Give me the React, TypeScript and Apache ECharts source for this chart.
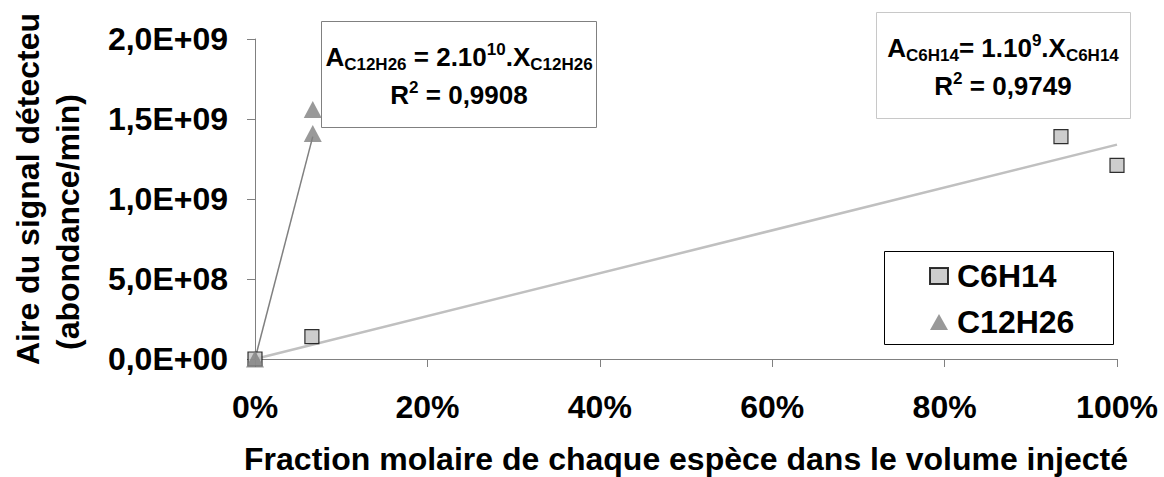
import React, { useEffect, useRef } from "react";
import * as echarts from "echarts";

const c6h14X = [0, 0.066, 0.935, 1.0];
const c6h14Y = [0, 1.4e8, 1.39e9, 1.21e9];
const c12h26X = [0, 0.067, 0.067];
const c12h26Y = [0, 1.56e9, 1.41e9];
const c6TrendX = [0, 1.0];
const c6TrendY = [0, 1.34e9];
const c12TrendX = [0, 0.067];
const c12TrendY = [0, 1.39e9];
const xTickLabels = ["0%", "20%", "40%", "60%", "80%", "100%"];
const yTickLabels = ["0,0E+00", "5,0E+08", "1,0E+09", "1,5E+09", "2,0E+09"];
const seriesNames = ["C6H14", "C12H26"];

const FONT = "'Liberation Sans', Arial, Helvetica, sans-serif";

const zip = (xs: number[], ys: number[]) => xs.map((x, i) => [x, ys[i]]);

function eqRich(color: string) {
  return {
    n: { fontSize: 26, fontWeight: "bold", color, fontFamily: FONT, lineHeight: 38, verticalAlign: "middle" },
    s: { fontSize: 17, fontWeight: "bold", color, fontFamily: FONT, lineHeight: 17, verticalAlign: "bottom", padding: [0, 0, 3, 0] },
    p: { fontSize: 17, fontWeight: "bold", color, fontFamily: FONT, lineHeight: 17, verticalAlign: "top", padding: [3, 0, 0, 0] },
  };
}

export default function App() {
  const ref = useRef<HTMLDivElement>(null);
  useEffect(() => {
    if (!ref.current) return;
    const chart = echarts.init(ref.current, undefined, { renderer: "svg" });
    chart.setOption({
      animation: false,
      textStyle: { fontFamily: FONT },
      grid: { left: 255, right: 47, top: 39, bottom: 118, outerBoundsMode: "none", containLabel: false },
      xAxis: {
        type: "value",
        min: 0,
        max: 1,
        interval: 0.2,
        splitLine: { show: false },
        axisLine: { lineStyle: { color: "#808080", width: 1 } },
        axisTick: { length: 8, lineStyle: { color: "#808080" } },
        axisLabel: {
          formatter: (_v: number, i: number) => xTickLabels[i],
          fontSize: 32,
          fontWeight: "bold",
          color: "#000",
          margin: 32,
          fontFamily: FONT,
        },
        name: "Fraction molaire de chaque espèce dans le volume injecté",
        nameLocation: "middle",
        nameGap: 84,
        nameTextStyle: { fontSize: 32, fontWeight: "bold", color: "#000", fontFamily: FONT, lineHeight: 32 },
      },
      yAxis: {
        type: "value",
        min: 0,
        max: 2e9,
        interval: 5e8,
        splitLine: { show: false },
        axisLine: { show: true, lineStyle: { color: "#808080", width: 1 } },
        axisTick: { show: true, length: 8, lineStyle: { color: "#808080" } },
        axisLabel: {
          formatter: (_v: number, i: number) => yTickLabels[i],
          fontSize: 32,
          fontWeight: "bold",
          color: "#000",
          margin: 27,
          fontFamily: FONT,
        },
      },
      legend: {
        orient: "vertical",
        left: 924,
        top: 255,
        data: seriesNames,
        itemGap: 14,
        itemWidth: 18,
        itemHeight: 16,
        textStyle: { fontSize: 32, fontWeight: "bold", color: "#000", fontFamily: FONT, lineHeight: 32, padding: [0, 0, 0, 4] },
      },
      series: [
        {
          type: "line",
          data: zip(c6TrendX, c6TrendY),
          showSymbol: false,
          symbol: "none",
          lineStyle: { color: "#c0c0c0", width: 2.5 },
          z: 1,
          silent: true,
        },
        {
          type: "line",
          data: zip(c12TrendX, c12TrendY),
          showSymbol: false,
          symbol: "none",
          lineStyle: { color: "#808080", width: 1.5 },
          z: 1,
          silent: true,
        },
        {
          name: seriesNames[0],
          type: "scatter",
          data: zip(c6h14X, c6h14Y),
          symbol: "rect",
          symbolSize: 14,
          itemStyle: { color: "#c0c0c0", borderColor: "#000", borderWidth: 1.2 },
          z: 3,
        },
        {
          name: seriesNames[1],
          type: "scatter",
          data: zip(c12h26X, c12h26Y),
          symbol: "triangle",
          symbolSize: [18, 17],
          itemStyle: { color: "#808080" },
          z: 4,
        },
      ],
      graphic: [
        {
          type: "text",
          rotation: Math.PI / 2,
          x: 28,
          y: 189,
          style: {
            text: "Aire du signal détecteu",
            fontSize: 32,
            fontWeight: "bold",
            fill: "#000",
            fontFamily: FONT,
            align: "center",
            verticalAlign: "middle",
          },
        },
        {
          type: "text",
          rotation: Math.PI / 2,
          x: 68,
          y: 222,
          style: {
            text: "(abondance/min)",
            fontSize: 32,
            fontWeight: "bold",
            fill: "#000",
            fontFamily: FONT,
            align: "center",
            verticalAlign: "middle",
          },
        },
        {
          type: "rect",
          shape: { x: 321.5, y: 21.5, width: 275, height: 106 },
          style: { fill: "#fff", stroke: "#808080", lineWidth: 1 },
          z: 2,
        },
        {
          type: "text",
          x: 459,
          y: 76,
          z: 3,
          style: {
            text: "{n|A}{s|C12H26}{n| = 2.10}{p|10}{n|.X}{s|C12H26}\n{n|R}{p|2}{n| = 0,9908}",
            rich: eqRich("#595959"),
            align: "center",
            verticalAlign: "middle",
          },
        },
        {
          type: "rect",
          shape: { x: 876.5, y: 12.5, width: 254, height: 106 },
          style: { fill: "#fff", stroke: "#c8c8c8", lineWidth: 1 },
          z: 2,
        },
        {
          type: "text",
          x: 1003,
          y: 67,
          z: 3,
          style: {
            text: "{n|A}{s|C6H14}{n|= 1.10}{p|9}{n|.X}{s|C6H14}\n{n|R}{p|2}{n| = 0,9749}",
            rich: eqRich("#999999"),
            align: "center",
            verticalAlign: "middle",
          },
        },
        {
          type: "rect",
          shape: { x: 884.5, y: 251.5, width: 229, height: 93 },
          style: { fill: "#fff", stroke: "#000", lineWidth: 1 },
          z: -1,
        },
      ],
    });
    return () => chart.dispose();
  }, []);
  return (
    <div
      ref={ref}
      style={{ position: "fixed", left: 0, top: 0, width: 1164, height: 477, background: "#fff" }}
    />
  );
}
